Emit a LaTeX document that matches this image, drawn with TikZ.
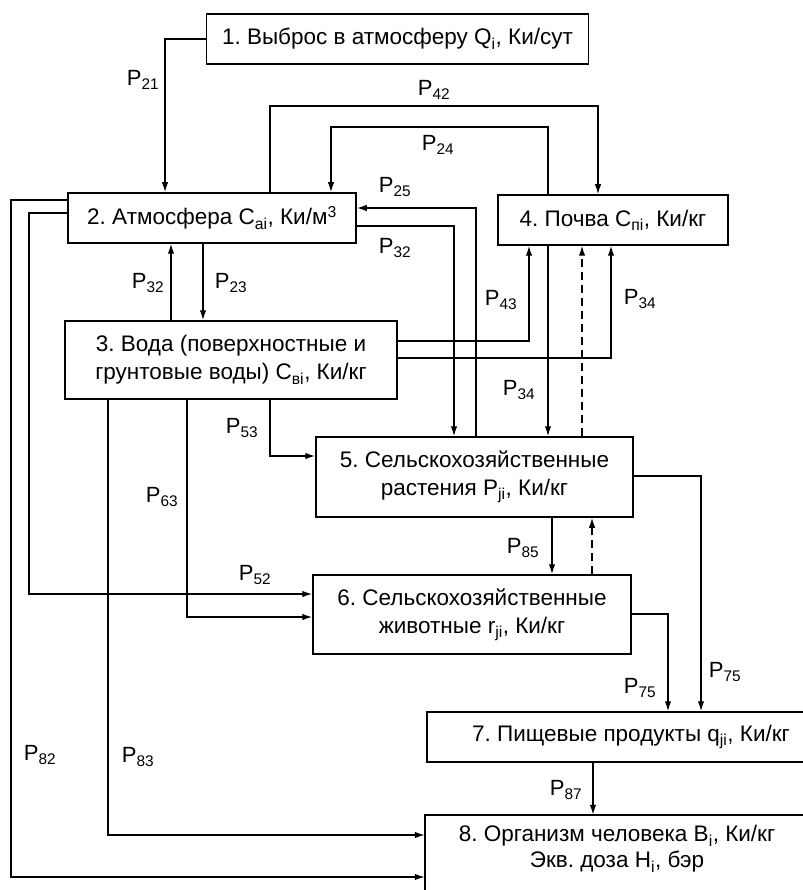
\documentclass[tikz,border=0pt]{standalone}
\usepackage{fontspec}
\setmainfont{Liberation Sans}
\usetikzlibrary{arrows.meta}
\frenchspacing
\begin{document}
\begin{tikzpicture}[x=1pt,y=-1pt,
  every node/.style={font=\fontsize{22.5}{28}\selectfont},
  box/.style={draw,line width=1.5pt,inner sep=0pt,align=center,fill=white},
  lbl/.style={inner sep=0pt,font=\fontsize{22}{26}\selectfont},
  conn/.style={line width=1.4pt},
  arr/.style={conn,-{Latex[length=10pt,width=6.5pt]}},
  dsh/.style={arr,dash pattern=on 8pt off 5pt}]
\useasboundingbox (0,0) rectangle (802,890);
\fill[white] (0,0) rectangle (802,890);
% boxes
\node[box,minimum width=382,minimum height=50] (b1) at (397.5,39) {1. Выброс в атмосферу Q\textsubscript{i}, Ки/сут};
\node[box,minimum width=288,minimum height=50] (b2) at (212,218) {2. Атмосфера C\textsubscript{ai}, Ки/м\textsuperscript{3}};
\node[box,minimum width=332,minimum height=78] (b3) at (231,360) {3. Вода (поверхностные и\\грунтовые воды) C\textsubscript{вi}, Ки/кг};
\node[box,minimum width=230,minimum height=50] (b4) at (613,220) {4. Почва C\textsubscript{пi}, Ки/кг};
\node[box,minimum width=317,minimum height=80] (b5) at (474.5,477) {5. Сельскохозяйственные\\растения P\textsubscript{ji}, Ки/кг};
\node[box,minimum width=318,minimum height=79] (b6) at (472,614.5) {6. Сельскохозяйственные\\животные r\textsubscript{ji}, Ки/кг};
\node[box,minimum width=408,minimum height=50] (b7) at (631,737) {7. Пищевые продукты q\textsubscript{ji}, Ки/кг};
\node[inner sep=0pt,align=center,minimum width=384,minimum height=68,font=\fontsize{22.5}{26}\selectfont] (b8) at (617,849) {8. Организм человека B\textsubscript{i}, Ки/кг\\Экв. доза H\textsubscript{i}, бэр};
\draw[line width=1.5pt] (b8.south west) ++(0,25) |- (b8.north east) -- ++(0,100);
% connectors
\draw[arr] (b1.west) -| (165,0 |- b2.north);
\draw[arr] (270,0 |- b2.north) -- (270,106) -| (598,0 |- b4.north);
\draw[arr] (548,0 |- b4.north) -- (548,127) -| (331,0 |- b2.north);
\draw[arr] (476,0 |- b5.north) |- (b2.east |- 0,208);
\draw[arr] (b2.east |- 0,226) -| (454,0 |- b5.north);
\draw[arr] (171,0 |- b3.north) -- (171,0 |- b2.south);
\draw[arr] (203,0 |- b2.south) -- (203,0 |- b3.north);
\draw[arr] (b3.east |- 0,341) -| (529,0 |- b4.south);
\draw[arr] (b3.east |- 0,358) -| (611,0 |- b4.south);
\draw[arr] (548,0 |- b4.south) -- (548,0 |- b5.north);
\draw[dsh] (582,0 |- b5.north) -- (582,0 |- b4.south);
\draw[arr] (270,0 |- b3.south) |- (b5.west |- 0,456);
\draw[arr] (187,0 |- b3.south) |- (b6.west |- 0,617);
\draw[arr] (108,0 |- b3.south) |- (b8.west |- 0,835);
\draw[arr] (b2.west |- 0,213) -- (29,213) |- (b6.west |- 0,594);
\draw[arr] (b2.west |- 0,200) -- (11,200) |- (b8.west |- 0,877);
\draw[arr] (552,0 |- b5.south) -- (552,0 |- b6.north);
\draw[dsh] (592,0 |- b6.north) -- (592,0 |- b5.south);
\draw[arr] (b5.east |- 0,476) -| (701,0 |- b7.north);
\draw[arr] (b6.east |- 0,614) -| (668,0 |- b7.north);
\draw[arr] (593,0 |- b7.south) -- (593,0 |- b8.north);
% labels
\node[lbl] (l21) at (143,80) {P\textsubscript{21}};
\node[lbl] (l42) at (434,90) {P\textsubscript{42}};
\node[lbl] (l24) at (438,145) {P\textsubscript{24}};
\node[lbl] (l25) at (395,187) {P\textsubscript{25}};
\node[lbl] (l32r) at (395,248) {P\textsubscript{32}};
\node[lbl] (l32l) at (148,283) {P\textsubscript{32}};
\node[lbl] (l23) at (231,283) {P\textsubscript{23}};
\node[lbl] (l43) at (501,300) {P\textsubscript{43}};
\node[lbl] (l34r) at (640,299) {P\textsubscript{34}};
\node[lbl] (l34) at (519,390) {P\textsubscript{34}};
\node[lbl] (l53) at (242,428) {P\textsubscript{53}};
\node[lbl] (l63) at (162,497) {P\textsubscript{63}};
\node[lbl] (l52) at (255,575) {P\textsubscript{52}};
\node[lbl] (l85) at (523,548) {P\textsubscript{85}};
\node[lbl] (l75l) at (640,688) {P\textsubscript{75}};
\node[lbl] (l75r) at (725,672) {P\textsubscript{75}};
\node[lbl] (l87) at (566,790) {P\textsubscript{87}};
\node[lbl] (l82) at (40,755) {P\textsubscript{82}};
\node[lbl] (l83) at (138,757) {P\textsubscript{83}};
\end{tikzpicture}
\end{document}
